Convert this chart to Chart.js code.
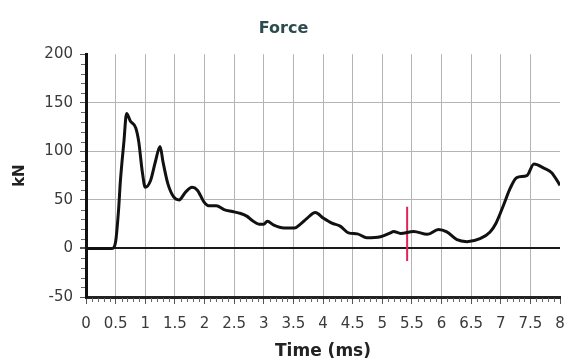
<!DOCTYPE html>
<html>
<head>
<meta charset="utf-8">
<script src="https://cdn.jsdelivr.net/npm/chart.js@4/dist/chart.umd.min.js"></script>
<style>
  html, body { margin: 0; padding: 0; background: #fff; }
  #wrap { width: 567px; height: 360px; }
</style>
</head>
<body>
<div id="wrap"><canvas id="c" width="567" height="360"></canvas></div>
<script>
// Force trace (kN) against time (ms)
const timeMs = [0, 0.44, 0.5, 0.55, 0.58, 0.64, 0.685, 0.75, 0.84, 0.89, 0.95, 1.0, 1.09, 1.17, 1.25, 1.3, 1.38, 1.48, 1.57, 1.68, 1.79, 1.88, 1.99, 2.07, 2.2, 2.33, 2.47, 2.61, 2.72, 2.8, 2.92, 3.0, 3.06, 3.17, 3.34, 3.52, 3.62, 3.73, 3.87, 4.01, 4.15, 4.29, 4.43, 4.58, 4.74, 4.97, 5.14, 5.19, 5.31, 5.53, 5.76, 5.95, 6.09, 6.26, 6.43, 6.65, 6.82, 6.92, 7.05, 7.16, 7.27, 7.44, 7.56, 7.72, 7.86, 8.0];
const forceKN = [0, 0, 7, 40, 69, 110, 139, 131, 124, 110, 79, 63, 70, 89, 105, 89, 67, 53, 50, 58, 63, 60, 48, 44, 44, 40, 38, 36, 33, 29, 25, 25, 28, 24, 21, 21, 25, 31, 37, 31, 26, 23, 16, 15, 11, 12, 16, 17.5, 15.5, 17.5, 14.5, 19.5, 17, 9, 7, 10, 17, 26, 45, 62, 73, 75, 87, 83, 78, 65];

// Red cursor line
const markerTime = [5.42, 5.42];
const markerForce = [-13, 43];

// Axis ranges / tick steps
const xRange = [0, 8];
const xStep = 0.5;
const yRange = [-50, 200];
const yStep = 50;

const FONT = "'DejaVu Sans', sans-serif";
const TEXT = '#3a3a3a';
const GRID = '#b4b4b4';

const pts = (xs, ys) => xs.map((x, i) => ({ x, y: ys[i] }));

// Small unlabelled ticks between the labelled ones
const minorTicks = {
  id: 'minorTicks',
  afterDraw(chart) {
    const { ctx, scales: { x, y } } = chart;
    ctx.save();
    ctx.strokeStyle = '#666';
    ctx.lineWidth = 1;
    ctx.beginPath();
    for (let i = 0; i <= 80; i++) {
      if (i % 5 === 0) continue;
      const px = Math.round(x.getPixelForValue(i / 10)) + 0.5;
      ctx.moveTo(px, y.bottom + 1);
      ctx.lineTo(px, y.bottom + 5);
    }
    for (let v = -50; v <= 200; v += 10) {
      if (v % 50 === 0) continue;
      const py = Math.round(y.getPixelForValue(v)) + 0.5;
      ctx.moveTo(x.left - 5, py);
      ctx.lineTo(x.left - 1, py);
    }
    ctx.stroke();
    ctx.restore();
  }
};

new Chart(document.getElementById('c'), {
  type: 'line',
  data: {
    datasets: [
      {
        data: pts(timeMs, forceKN),
        borderColor: '#111',
        borderWidth: 3,
        pointRadius: 0,
        cubicInterpolationMode: 'monotone',
        fill: false
      },
      {
        data: pts(markerTime, markerForce),
        borderColor: '#e0245a',
        borderWidth: 2,
        pointRadius: 0,
        fill: false
      }
    ]
  },
  options: {
    responsive: false,
    animation: false,
    layout: { padding: { left: 0, right: 0, top: 0, bottom: 0 } },
    plugins: {
      legend: { display: false },
      tooltip: { enabled: false },
      title: {
        display: true,
        text: 'Force',
        color: '#2d4a50',
        font: { family: FONT, size: 16, weight: 'bold' },
        padding: { top: 19, bottom: 16 }
      }
    },
    scales: {
      x: {
        type: 'linear',
        min: xRange[0],
        max: xRange[1],
        afterFit: s => { s.height = 63; s.paddingRight = 7; },
        ticks: {
          stepSize: xStep,
          autoSkip: false,
          maxRotation: 0,
          color: TEXT,
          padding: 11,
          font: { family: FONT, size: 15 },
          callback: v => String(Number(v.toFixed(1)))
        },
        grid: {
          color: c => (c.tick && (c.tick.value === 0 || c.tick.value === 8)) ? 'rgba(0,0,0,0)' : GRID,
          lineWidth: 1,
          tickLength: 7,
          tickColor: '#555'
        },
        border: { color: '#222', width: 3 },
        title: {
          display: true,
          text: 'Time (ms)',
          color: '#222',
          font: { family: FONT, size: 17, weight: 'bold' },
          padding: { top: 0, bottom: -2 }
        }
      },
      y: {
        min: yRange[0],
        max: yRange[1],
        afterFit: s => { s.width = 86; },
        ticks: {
          stepSize: yStep,
          color: TEXT,
          padding: 7,
          font: { family: FONT, size: 15 }
        },
        grid: {
          color: c => {
            const v = c.tick && c.tick.value;
            if (v === 0) return '#1a1a1a';
            if (v === 200 || v === -50) return 'rgba(0,0,0,0)';
            return GRID;
          },
          lineWidth: c => (c.tick && c.tick.value === 0) ? 2 : 1,
          tickLength: 6,
          tickColor: '#555'
        },
        border: { color: '#111', width: 3 },
        title: {
          display: true,
          text: 'kN',
          color: '#222',
          font: { family: FONT, size: 15, weight: 'bold' },
          padding: { top: 11, bottom: 0 }
        }
      }
    }
  },
  plugins: [minorTicks]
});
</script>
</body>
</html>
